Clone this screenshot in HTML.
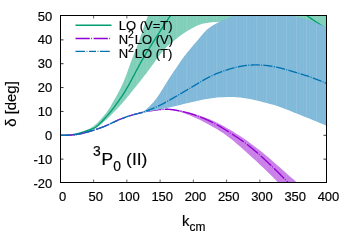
<!DOCTYPE html>
<html>
<head>
<meta charset="utf-8">
<title>3P0 (II) phase shift</title>
<style>
  html, body { margin: 0; padding: 0; background: #ffffff; }
  body { width: 350px; height: 245px; overflow: hidden; }
  svg { display: block; }
  text { font-family: "Liberation Sans", sans-serif; font-size: 13px; fill: #000000; stroke: #000000; stroke-width: 0.18px; }
</style>
</head>
<body>
<svg width="350" height="245" viewBox="0 0 350 245">
<rect x="0" y="0" width="350" height="245" fill="#ffffff"/>
<defs>
  <filter id="gray-aa" x="0" y="0" width="350" height="245" filterUnits="userSpaceOnUse" color-interpolation-filters="sRGB"><feOffset dx="0" dy="0"/></filter>
  <clipPath id="plot"><rect x="60.5" y="15.5" width="266.0" height="167.0"/></clipPath>
</defs>

<!-- tick marks (behind the data, as drawn by gnuplot) -->
<g stroke="#000000" stroke-width="1" stroke-opacity="0.6" fill="none">
<path d="M93.60,182.5v-3M93.60,15.5v3"/>
<path d="M126.85,182.5v-3M126.85,15.5v3"/>
<path d="M160.10,182.5v-3M160.10,15.5v3"/>
<path d="M193.35,182.5v-3M193.35,15.5v3"/>
<path d="M226.60,182.5v-3M226.60,15.5v3"/>
<path d="M259.85,182.5v-3M259.85,15.5v3"/>
<path d="M293.10,182.5v-3M293.10,15.5v3"/>
</g>
<g stroke="#000000" stroke-width="1" stroke-opacity="0.8" fill="none">
<path d="M60.5,159.14h3M326.5,159.14h-3"/>
<path d="M60.5,135.29h3M326.5,135.29h-3"/>
<path d="M60.5,111.43h3M326.5,111.43h-3"/>
<path d="M60.5,87.57h3M326.5,87.57h-3"/>
<path d="M60.5,63.71h3M326.5,63.71h-3"/>
<path d="M60.5,39.86h3M326.5,39.86h-3"/>
</g>

<!-- uncertainty bands + central curves (gnuplot draw order) -->
<g clip-path="url(#plot)">
<g id="band-lo">
<path d="M67.15,135.13 L70.47,134.80 L73.80,134.23 L77.12,133.40 L80.45,132.35 L83.78,131.15 L87.10,129.82 L90.42,128.16 L93.75,125.96 L97.08,123.16 L100.40,119.85 L103.72,116.11 L107.05,111.83 L110.38,106.69 L113.70,100.82 L117.03,94.92 L120.35,88.80 L123.68,81.58 L127.00,72.91 L130.32,63.46 L133.65,54.71 L136.98,46.63 L140.30,37.46 L143.62,27.38 L146.95,18.17 L150.28,9.79 L153.60,1.57 L156.93,-6.65 L160.25,-14.86 L163.57,-23.08 L166.90,-31.29 L170.23,-39.51 L173.55,-47.72 L176.88,-55.94 L180.20,-60.00 L183.53,-60.00 L186.85,-60.00 L190.18,-60.00 L193.50,-60.00 L196.83,-60.00 L200.15,-60.00 L203.47,-60.00 L206.80,-60.00 L210.12,-60.00 L213.45,-60.00 L216.78,-60.00 L220.10,-60.00 L223.43,-60.00 L226.75,-60.00 L230.08,-60.00 L233.40,-60.00 L236.73,-60.00 L240.05,-60.00 L243.38,-60.00 L246.70,-60.00 L250.03,-60.00 L253.35,-60.00 L256.68,-60.00 L260.00,-60.00 L263.33,-60.00 L266.65,-60.00 L269.98,-60.00 L273.30,-60.00 L276.62,-60.00 L279.95,-60.00 L283.27,-60.00 L286.60,-60.00 L289.93,-60.00 L293.25,-60.00 L296.58,-60.00 L299.90,-60.00 L303.23,-60.00 L306.55,-60.00 L309.88,-60.00 L313.20,-60.00 L316.53,-60.00 L319.85,-60.00 L323.18,-60.00 L326.50,-60.00 L326.50,32.00 L323.18,31.54 L319.85,31.08 L316.53,30.63 L313.20,30.17 L309.88,29.72 L306.55,29.28 L303.23,28.84 L299.90,28.40 L296.58,27.98 L293.25,27.56 L289.93,27.15 L286.60,26.76 L283.27,26.37 L279.95,26.00 L276.62,25.64 L273.30,25.29 L269.98,24.95 L266.65,24.63 L263.33,24.32 L260.00,24.03 L256.68,23.74 L253.35,23.47 L250.03,23.21 L246.70,22.96 L243.38,22.73 L240.05,22.51 L236.73,22.30 L233.40,22.11 L230.08,21.96 L226.75,21.85 L223.43,21.79 L220.10,21.80 L216.78,21.89 L213.45,22.09 L210.12,22.41 L206.80,22.89 L203.47,23.57 L200.15,24.53 L196.83,25.84 L193.50,27.46 L190.18,29.33 L186.85,31.37 L183.53,33.54 L180.20,35.86 L176.88,38.39 L173.55,41.07 L170.23,43.84 L166.90,46.84 L163.57,50.33 L160.25,54.37 L156.93,58.83 L153.60,63.48 L150.28,68.06 L146.95,72.48 L143.62,76.77 L140.30,80.99 L136.98,85.19 L133.65,89.37 L130.32,93.52 L127.00,97.59 L123.68,101.56 L120.35,105.36 L117.03,108.92 L113.70,112.30 L110.38,115.65 L107.05,118.95 L103.72,122.08 L100.40,124.87 L97.08,127.20 L93.75,129.04 L90.42,130.46 L87.10,131.56 L83.78,132.47 L80.45,133.28 L77.12,134.00 L73.80,134.55 L70.47,134.93 L67.15,135.15Z" fill="#80cfb9"/>
<path d="M87.10,130.42V130.96M97.08,123.76V126.60M107.05,112.43V118.35M117.03,95.52V108.32M127.00,73.51V96.99M136.98,47.23V84.59M146.95,18.77V71.88M156.93,16.10V58.23M166.90,16.10V46.24M176.88,16.10V37.79M186.85,16.10V30.77M196.83,16.10V25.24M206.80,16.10V22.29M216.78,16.10V21.29M226.75,16.10V21.25M236.73,16.10V21.70M246.70,16.10V22.36M256.68,16.10V23.14M266.65,16.10V24.03M276.62,16.10V25.04M286.60,16.10V26.16M296.58,16.10V27.38M306.55,16.10V28.68M316.53,16.10V30.03" stroke="#ffffff" stroke-opacity="0.13" stroke-width="1" fill="none"/>
<path d="M90.42,128.76V129.86M93.75,126.56V128.44M100.40,120.45V124.27M103.72,116.71V121.48M110.38,107.29V115.05M113.70,101.42V111.70M120.35,89.40V104.76M123.68,82.18V100.96M130.32,64.06V92.92M133.65,55.31V88.77M140.30,38.06V80.39M143.62,27.98V76.17M150.28,16.10V67.46M153.60,16.10V62.88M160.25,16.10V53.77M163.57,16.10V49.73M170.23,16.10V43.24M173.55,16.10V40.47M180.20,16.10V35.26M183.53,16.10V32.94M190.18,16.10V28.73M193.50,16.10V26.86M200.15,16.10V23.93M203.47,16.10V22.97M210.12,16.10V21.81M213.45,16.10V21.49M220.10,16.10V21.20M223.43,16.10V21.19M230.08,16.10V21.36M233.40,16.10V21.51M240.05,16.10V21.91M243.38,16.10V22.13M250.03,16.10V22.61M253.35,16.10V22.87M260.00,16.10V23.43M263.33,16.10V23.72M269.98,16.10V24.35M273.30,16.10V24.69M279.95,16.10V25.40M283.27,16.10V25.77M289.93,16.10V26.55M293.25,16.10V26.96M299.90,16.10V27.80M303.23,16.10V28.24M309.88,16.10V29.12M313.20,16.10V29.57M319.85,16.10V30.48M323.18,16.10V30.94" stroke="#ffffff" stroke-opacity="0.052" stroke-width="1" fill="none"/>
</g>
<path d="M60.50,135.30 L60.79,135.30 L61.08,135.29 L61.37,135.29 L61.66,135.29 L61.95,135.29 L62.24,135.29 L62.53,135.28 L62.82,135.28 L63.11,135.27 L63.39,135.27 L63.68,135.26 L63.97,135.26 L64.26,135.25 L64.55,135.24 L64.84,135.24 L65.13,135.23 L65.42,135.22 L65.71,135.21 L66.00,135.19 L66.29,135.18 L66.58,135.17 L66.87,135.15 L67.16,135.14 L67.45,135.12 L67.74,135.10 L68.03,135.08 L68.32,135.06 L68.61,135.04 L68.89,135.01 L69.18,134.99 L69.47,134.96 L69.76,134.93 L70.05,134.90 L70.34,134.87 L70.63,134.84 L70.92,134.81 L71.21,134.77 L71.50,134.73 L71.79,134.70 L72.08,134.66 L72.37,134.62 L72.66,134.57 L72.95,134.53 L73.24,134.48 L73.53,134.44 L73.82,134.39 L74.11,134.34 L74.39,134.29 L74.68,134.23 L74.97,134.18 L75.26,134.12 L75.55,134.07 L75.84,134.01 L76.13,133.95 L76.42,133.88 L76.71,133.82 L77.00,133.76 L77.29,133.69 L77.58,133.62 L77.87,133.55 L78.16,133.48 L78.45,133.41 L78.74,133.33 L79.03,133.26 L79.32,133.18 L79.61,133.11 L79.89,133.03 L80.18,132.95 L80.47,132.86 L80.76,132.78 L81.05,132.70 L81.34,132.61 L81.63,132.52 L81.92,132.44 L82.21,132.35 L82.50,132.26 L82.79,132.17 L83.08,132.07 L83.37,131.98 L83.66,131.88 L83.95,131.79 L84.24,131.69 L84.53,131.60 L84.82,131.50 L85.11,131.40 L85.39,131.30 L85.68,131.20 L85.97,131.11 L86.26,131.01 L86.55,130.91 L86.84,130.81 L87.13,130.71 L87.42,130.61 L87.71,130.51 L88.00,130.42 L88.29,130.32 L88.58,130.22 L88.87,130.12 L89.16,130.02 L89.45,129.93 L89.74,129.83 L90.03,129.73 L90.32,129.63 L90.61,129.53 L90.89,129.43 L91.18,129.32 L91.47,129.21 L91.76,129.10 L92.05,128.99 L92.34,128.87 L92.63,128.75 L92.92,128.62 L93.21,128.49 L93.50,128.35 L93.79,128.21 L94.08,128.06 L94.37,127.90 L94.66,127.74 L94.95,127.57 L95.24,127.39 L95.53,127.20 L95.82,127.01 L96.11,126.81 L96.39,126.60 L96.68,126.38 L96.97,126.16 L97.26,125.92 L97.55,125.69 L97.84,125.44 L98.13,125.19 L98.42,124.93 L98.71,124.67 L99.00,124.40 L99.29,124.12 L99.58,123.84 L99.87,123.56 L100.16,123.27 L100.45,122.98 L100.74,122.69 L101.03,122.39 L101.32,122.09 L101.61,121.78 L101.89,121.48 L102.18,121.17 L102.47,120.86 L102.76,120.55 L103.05,120.24 L103.34,119.93 L103.63,119.61 L103.92,119.30 L104.21,118.98 L104.50,118.66 L104.79,118.35 L105.08,118.03 L105.37,117.71 L105.66,117.39 L105.95,117.06 L106.24,116.74 L106.53,116.42 L106.82,116.09 L107.11,115.76 L107.39,115.43 L107.68,115.11 L107.97,114.77 L108.26,114.44 L108.55,114.11 L108.84,113.77 L109.13,113.43 L109.42,113.09 L109.71,112.75 L110.00,112.41 L110.29,112.06 L110.58,111.71 L110.87,111.36 L111.16,111.01 L111.45,110.65 L111.74,110.29 L112.03,109.93 L112.32,109.56 L112.61,109.19 L112.89,108.82 L113.18,108.45 L113.47,108.07 L113.76,107.69 L114.05,107.30 L114.34,106.92 L114.63,106.53 L114.92,106.14 L115.21,105.74 L115.50,105.34 L115.79,104.95 L116.08,104.54 L116.37,104.14 L116.66,103.74 L116.95,103.33 L117.24,102.93 L117.53,102.52 L117.82,102.11 L118.11,101.70 L118.39,101.29 L118.68,100.87 L118.97,100.46 L119.26,100.05 L119.55,99.63 L119.84,99.22 L120.13,98.80 L120.42,98.38 L120.71,97.96 L121.00,97.54 L121.29,97.12 L121.58,96.70 L121.87,96.27 L122.16,95.84 L122.45,95.41 L122.74,94.97 L123.03,94.53 L123.32,94.09 L123.61,93.64 L123.89,93.19 L124.18,92.74 L124.47,92.28 L124.76,91.82 L125.05,91.35 L125.34,90.88 L125.63,90.40 L125.92,89.92 L126.21,89.43 L126.50,88.94 L126.79,88.45 L127.08,87.95 L127.37,87.45 L127.66,86.94 L127.95,86.43 L128.24,85.92 L128.53,85.40 L128.82,84.88 L129.11,84.35 L129.39,83.82 L129.68,83.29 L129.97,82.76 L130.26,82.23 L130.55,81.69 L130.84,81.15 L131.13,80.61 L131.42,80.06 L131.71,79.52 L132.00,78.97 L132.29,78.43 L132.58,77.88 L132.87,77.33 L133.16,76.78 L133.45,76.23 L133.74,75.68 L134.03,75.13 L134.32,74.58 L134.61,74.03 L134.89,73.48 L135.18,72.93 L135.47,72.38 L135.76,71.83 L136.05,71.28 L136.34,70.73 L136.63,70.19 L136.92,69.64 L137.21,69.10 L137.50,68.56 L137.79,68.02 L138.08,67.48 L138.37,66.94 L138.66,66.40 L138.95,65.87 L139.24,65.33 L139.53,64.80 L139.82,64.27 L140.11,63.75 L140.39,63.22 L140.68,62.70 L140.97,62.18 L141.26,61.66 L141.55,61.15 L141.84,60.63 L142.13,60.12 L142.42,59.61 L142.71,59.11 L143.00,58.60 L143.29,58.10 L143.58,57.60 L143.87,57.11 L144.16,56.61 L144.45,56.12 L144.74,55.63 L145.03,55.15 L145.32,54.66 L145.61,54.18 L145.89,53.70 L146.18,53.22 L146.47,52.75 L146.76,52.27 L147.05,51.80 L147.34,51.33 L147.63,50.86 L147.92,50.39 L148.21,49.93 L148.50,49.46 L148.79,49.00 L149.08,48.54 L149.37,48.08 L149.66,47.62 L149.95,47.16 L150.24,46.70 L150.53,46.25 L150.82,45.79 L151.11,45.33 L151.39,44.88 L151.68,44.43 L151.97,43.97 L152.26,43.52 L152.55,43.06 L152.84,42.61 L153.13,42.16 L153.42,41.71 L153.71,41.25 L154.00,40.80 L154.29,40.35 L154.58,39.89 L154.87,39.44 L155.16,38.99 L155.45,38.54 L155.74,38.08 L156.03,37.63 L156.32,37.18 L156.61,36.72 L156.89,36.27 L157.18,35.81 L157.47,35.36 L157.76,34.91 L158.05,34.45 L158.34,34.00 L158.63,33.55 L158.92,33.09 L159.21,32.64 L159.50,32.19 L159.79,31.74 L160.08,31.29 L160.37,30.84 L160.66,30.39 L160.95,29.94 L161.24,29.49 L161.53,29.04 L161.82,28.60 L162.11,28.15 L162.39,27.70 L162.68,27.26 L162.97,26.82 L163.26,26.37 L163.55,25.93 L163.84,25.49 L164.13,25.05 L164.42,24.61 L164.71,24.18 L165.00,23.74 L165.29,23.30 L165.58,22.87 L165.87,22.43 L166.16,22.00 L166.45,21.56 L166.74,21.13 L167.03,20.70 L167.32,20.27 L167.61,19.84 L167.89,19.41 L168.18,18.98 L168.47,18.55 L168.76,18.12 L169.05,17.69 L169.34,17.26 L169.63,16.83 L169.92,16.41 L170.21,15.98 L170.50,15.55 L170.79,15.12 L171.08,14.70 L171.37,14.27 L171.66,13.84 L171.95,13.41 L172.24,12.99 L172.53,12.56 L172.82,12.13 L173.11,11.71 L173.39,11.28 L173.68,10.85 L173.97,10.43 L174.26,10.00 L174.55,9.57 L174.84,9.15 L175.13,8.72 L175.42,8.29 L175.71,7.87 L176.00,7.44" fill="none" stroke="#009e73" stroke-width="1.35"/>
<path d="M300.00,9.49 L300.68,10.11 L301.36,10.72 L302.04,11.33 L302.72,11.94 L303.40,12.54 L304.08,13.13 L304.76,13.71 L305.44,14.28 L306.12,14.84 L306.79,15.38 L307.47,15.92 L308.15,16.44 L308.83,16.95 L309.51,17.45 L310.19,17.93 L310.87,18.41 L311.55,18.88 L312.23,19.34 L312.91,19.79 L313.59,20.24 L314.27,20.69 L314.95,21.14 L315.63,21.58 L316.31,22.03 L316.99,22.48 L317.67,22.94 L318.35,23.40 L319.03,23.87 L319.71,24.34 L320.38,24.82 L321.06,25.32 L321.74,25.82 L322.42,26.33 L323.10,26.84 L323.78,27.37 L324.46,27.90 L325.14,28.43 L325.82,28.97 L326.50,29.51" fill="none" stroke="#009e73" stroke-width="1.35"/>
<g id="band-n2lo-v">
<path d="M140.30,112.92 L143.62,112.13 L146.95,111.38 L150.28,110.69 L153.60,110.07 L156.93,109.54 L160.25,109.14 L163.57,108.90 L166.90,108.82 L170.23,108.94 L173.55,109.25 L176.88,109.73 L180.20,110.36 L183.53,111.09 L186.85,111.90 L190.18,112.77 L193.50,113.71 L196.83,114.73 L200.15,115.82 L203.47,116.98 L206.80,118.23 L210.12,119.58 L213.45,121.04 L216.78,122.60 L220.10,124.27 L223.43,126.03 L226.75,127.89 L230.08,129.82 L233.40,131.83 L236.73,133.91 L240.05,136.05 L243.38,138.27 L246.70,140.57 L250.03,142.95 L253.35,145.40 L256.68,147.94 L260.00,150.56 L263.33,153.25 L266.65,156.01 L269.98,158.84 L273.30,161.72 L276.62,164.64 L279.95,167.58 L283.27,170.53 L286.60,173.48 L289.93,176.42 L293.25,179.35 L296.58,182.28 L299.90,185.20 L303.23,188.12 L306.55,191.04 L309.88,193.96 L313.20,196.88 L316.53,199.79 L319.85,202.71 L323.18,205.63 L326.50,208.55 L326.50,232.53 L323.18,229.08 L319.85,225.64 L316.53,222.19 L313.20,218.75 L309.88,215.30 L306.55,211.86 L303.23,208.42 L299.90,204.97 L296.58,201.53 L293.25,198.08 L289.93,194.64 L286.60,191.19 L283.27,187.75 L279.95,184.31 L276.62,180.90 L273.30,177.52 L269.98,174.19 L266.65,170.93 L263.33,167.76 L260.00,164.66 L256.68,161.62 L253.35,158.60 L250.03,155.59 L246.70,152.57 L243.38,149.55 L240.05,146.56 L236.73,143.65 L233.40,140.85 L230.08,138.20 L226.75,135.71 L223.43,133.37 L220.10,131.18 L216.78,129.10 L213.45,127.13 L210.12,125.24 L206.80,123.45 L203.47,121.73 L200.15,120.07 L196.83,118.48 L193.50,116.96 L190.18,115.52 L186.85,114.20 L183.53,113.01 L180.20,111.99 L176.88,111.14 L173.55,110.47 L170.23,109.98 L166.90,109.70 L163.57,109.67 L160.25,109.84 L156.93,110.17 L153.60,110.58 L150.28,111.04 L146.95,111.57 L143.62,112.19 L140.30,112.92Z" fill="#ca80e9"/>
<path d="M186.85,112.50V113.60M196.83,115.33V117.88M206.80,118.83V122.85M216.78,123.20V128.50M226.75,128.49V135.11M236.73,134.51V143.05M246.70,141.17V151.97M256.68,148.54V161.02M266.65,156.61V170.33M276.62,165.24V180.30M286.60,174.08V181.90M296.58,182.88V181.90M306.55,191.64V181.90M316.53,200.39V181.90" stroke="#ffffff" stroke-opacity="0.08" stroke-width="1" fill="none"/>
<path d="M180.20,110.96V111.39M183.53,111.69V112.41M190.18,113.37V114.92M193.50,114.31V116.36M200.15,116.42V119.47M203.47,117.58V121.13M210.12,120.18V124.64M213.45,121.64V126.53M220.10,124.87V130.58M223.43,126.63V132.77M230.08,130.42V137.60M233.40,132.43V140.25M240.05,136.65V145.96M243.38,138.87V148.95M250.03,143.55V154.99M253.35,146.00V158.00M260.00,151.16V164.06M263.33,153.85V167.16M269.98,159.44V173.59M273.30,162.32V176.92M279.95,168.18V181.90M283.27,171.13V181.90M289.93,177.02V181.90M293.25,179.95V181.90M299.90,185.80V181.90M303.23,188.72V181.90M309.88,194.56V181.90M313.20,197.48V181.90M319.85,203.31V181.90M323.18,206.23V181.90" stroke="#ffffff" stroke-opacity="0.032" stroke-width="1" fill="none"/>
</g>
<path d="M60.50,135.30 L61.17,135.30 L61.83,135.31 L62.50,135.31 L63.17,135.31 L63.83,135.31 L64.50,135.31 L65.17,135.30 L65.83,135.29 L66.50,135.28 L67.17,135.26 L67.83,135.24 L68.50,135.21 L69.17,135.18 L69.83,135.15 L70.50,135.10 L71.17,135.06 L71.83,135.01 L72.50,134.95 L73.17,134.88 L73.83,134.81 L74.50,134.74 L75.17,134.66 L75.83,134.57 L76.50,134.48 L77.17,134.38 L77.83,134.27 L78.50,134.16 L79.17,134.04 L79.83,133.91 L80.50,133.78 L81.17,133.65 L81.83,133.50 L82.50,133.35 L83.17,133.20 L83.83,133.03 L84.50,132.87 L85.17,132.69 L85.83,132.52 L86.50,132.33 L87.17,132.15 L87.83,131.96 L88.50,131.76 L89.17,131.56 L89.83,131.36 L90.50,131.15 L91.17,130.95 L91.83,130.74 L92.50,130.53 L93.17,130.31 L93.83,130.10 L94.50,129.88 L95.17,129.66 L95.83,129.44 L96.50,129.22 L97.17,128.99 L97.83,128.77 L98.50,128.54 L99.17,128.30 L99.83,128.07 L100.50,127.83 L101.17,127.58 L101.83,127.34 L102.50,127.08 L103.17,126.83 L103.83,126.57 L104.50,126.30 L105.17,126.03 L105.83,125.76 L106.50,125.48 L107.17,125.19 L107.83,124.90 L108.50,124.60 L109.17,124.30 L109.83,123.99 L110.50,123.68 L111.17,123.37 L111.83,123.05 L112.50,122.73 L113.17,122.41 L113.83,122.10 L114.50,121.78 L115.17,121.46 L115.83,121.15 L116.50,120.84 L117.17,120.53 L117.83,120.23 L118.50,119.94 L119.17,119.64 L119.83,119.36 L120.50,119.07 L121.17,118.80 L121.83,118.53 L122.50,118.27 L123.17,118.01 L123.83,117.76 L124.50,117.52 L125.17,117.28 L125.83,117.05 L126.50,116.82 L127.17,116.60 L127.83,116.39 L128.50,116.17 L129.17,115.97 L129.83,115.76 L130.50,115.56 L131.17,115.37 L131.83,115.17 L132.50,114.98 L133.17,114.79 L133.83,114.60 L134.50,114.41 L135.17,114.23 L135.83,114.05 L136.50,113.87 L137.17,113.70 L137.83,113.53 L138.50,113.36 L139.17,113.19 L139.83,113.03 L140.50,112.87 L141.17,112.72 L141.83,112.56 L142.50,112.41 L143.17,112.26 L143.83,112.12 L144.50,111.98 L145.17,111.84 L145.83,111.70 L146.50,111.57 L147.17,111.44 L147.83,111.31 L148.50,111.18 L149.17,111.06 L149.83,110.94 L150.50,110.82 L151.17,110.71 L151.83,110.60 L152.50,110.49 L153.17,110.39 L153.83,110.29 L154.50,110.19 L155.17,110.09 L155.83,110.00 L156.50,109.91 L157.17,109.83 L157.83,109.75 L158.50,109.67 L159.17,109.60 L159.83,109.53 L160.50,109.47 L161.17,109.42 L161.83,109.37 L162.50,109.33 L163.17,109.30 L163.83,109.27 L164.50,109.25 L165.17,109.24 L165.83,109.24 L166.50,109.25 L167.17,109.26 L167.83,109.29 L168.50,109.32 L169.17,109.36 L169.83,109.41 L170.50,109.46 L171.17,109.53 L171.83,109.60 L172.50,109.68 L173.17,109.76 L173.83,109.86 L174.50,109.96 L175.17,110.06 L175.83,110.18 L176.50,110.30 L177.17,110.42 L177.83,110.55 L178.50,110.68 L179.17,110.82 L179.83,110.97 L180.50,111.11 L181.17,111.26 L181.83,111.41 L182.50,111.57 L183.17,111.73 L183.83,111.89 L184.50,112.05 L185.17,112.21 L185.83,112.38 L186.50,112.55 L187.17,112.73 L187.83,112.91 L188.50,113.09 L189.17,113.27 L189.83,113.46 L190.50,113.65 L191.17,113.85 L191.83,114.05 L192.50,114.25 L193.17,114.46 L193.83,114.67 L194.50,114.89 L195.17,115.11 L195.83,115.34 L196.50,115.57 L197.17,115.80 L197.83,116.04 L198.50,116.29 L199.17,116.54 L199.83,116.79 L200.50,117.05 L201.17,117.31 L201.83,117.58 L202.50,117.85 L203.17,118.12 L203.83,118.40 L204.50,118.68 L205.17,118.97 L205.83,119.26 L206.50,119.55 L207.17,119.85 L207.83,120.16 L208.50,120.46 L209.17,120.77 L209.83,121.09 L210.50,121.41 L211.17,121.74 L211.83,122.07 L212.50,122.40 L213.17,122.74 L213.83,123.08 L214.50,123.43 L215.17,123.79 L215.83,124.15 L216.50,124.51 L217.17,124.88 L217.83,125.26 L218.50,125.64 L219.17,126.02 L219.83,126.41 L220.50,126.80 L221.17,127.19 L221.83,127.59 L222.50,127.99 L223.17,128.40 L223.83,128.81 L224.50,129.22 L225.17,129.63 L225.83,130.05 L226.50,130.47 L227.17,130.89 L227.83,131.31 L228.50,131.74 L229.17,132.17 L229.83,132.59 L230.50,133.02 L231.17,133.46 L231.83,133.89 L232.50,134.32 L233.17,134.76 L233.83,135.20 L234.50,135.63 L235.17,136.07 L235.83,136.52 L236.50,136.96 L237.17,137.41 L237.83,137.86 L238.50,138.31 L239.17,138.77 L239.83,139.23 L240.50,139.69 L241.17,140.15 L241.83,140.62 L242.50,141.09 L243.17,141.57 L243.83,142.05 L244.50,142.54 L245.17,143.03 L245.83,143.52 L246.50,144.02 L247.17,144.53 L247.83,145.04 L248.50,145.55 L249.17,146.07 L249.83,146.60 L250.50,147.13 L251.17,147.67 L251.83,148.21 L252.50,148.76 L253.17,149.31 L253.83,149.86 L254.50,150.42 L255.17,150.99 L255.83,151.56 L256.50,152.13 L257.17,152.71 L257.83,153.30 L258.50,153.88 L259.17,154.47 L259.83,155.06 L260.50,155.66 L261.17,156.26 L261.83,156.86 L262.50,157.47 L263.17,158.08 L263.83,158.69 L264.50,159.30 L265.17,159.92 L265.83,160.54 L266.50,161.16 L267.17,161.78 L267.83,162.41 L268.50,163.03 L269.17,163.66 L269.83,164.29 L270.50,164.93 L271.17,165.57 L271.83,166.21 L272.50,166.85 L273.17,167.49 L273.83,168.14 L274.50,168.79 L275.17,169.44 L275.83,170.10 L276.50,170.75 L277.17,171.41 L277.83,172.08 L278.50,172.74 L279.17,173.41 L279.83,174.09 L280.50,174.76 L281.17,175.44 L281.83,176.12 L282.50,176.80 L283.17,177.49 L283.83,178.18 L284.50,178.87 L285.17,179.56 L285.83,180.25 L286.50,180.94 L287.17,181.64 L287.83,182.33 L288.50,183.02 L289.17,183.71 L289.83,184.40 L290.50,185.09 L291.17,185.78 L291.83,186.47 L292.50,187.15 L293.17,187.84 L293.83,188.53 L294.50,189.21 L295.17,189.90 L295.83,190.58 L296.50,191.27 L297.17,191.96 L297.83,192.64 L298.50,193.33 L299.17,194.01 L299.83,194.70 L300.50,195.38 L301.17,196.07 L301.83,196.75 L302.50,197.44 L303.17,198.13 L303.83,198.81 L304.50,199.50 L305.17,200.18 L305.83,200.87 L306.50,201.55 L307.17,202.24 L307.83,202.92 L308.50,203.61 L309.17,204.29 L309.83,204.98 L310.50,205.67 L311.17,206.35 L311.83,207.04 L312.50,207.72 L313.17,208.41 L313.83,209.09 L314.50,209.78 L315.17,210.46 L315.83,211.15 L316.50,211.83 L317.17,212.52 L317.83,213.21 L318.50,213.89 L319.17,214.58 L319.83,215.26 L320.50,215.95 L321.17,216.63 L321.83,217.32 L322.50,218.00 L323.17,218.69 L323.83,219.37 L324.50,220.06 L325.17,220.75 L325.83,221.43 L326.50,222.12" fill="none" stroke="#9400d3" stroke-width="1.35" stroke-dasharray="14.3 1.4 0.8 1.6"/>
<g id="band-n2lo-t">
<path d="M130.32,115.60 L133.65,114.60 L136.98,113.76 L140.30,112.85 L143.62,111.17 L146.95,108.63 L150.28,105.58 L153.60,101.95 L156.93,97.63 L160.25,92.72 L163.57,87.38 L166.90,81.94 L170.23,76.78 L173.55,71.87 L176.88,66.94 L180.20,62.01 L183.53,57.33 L186.85,53.00 L190.18,48.98 L193.50,45.10 L196.83,41.19 L200.15,37.17 L203.47,33.26 L206.80,29.86 L210.12,27.20 L213.45,25.11 L216.78,23.26 L220.10,21.51 L223.43,19.89 L226.75,18.45 L230.08,17.24 L233.40,16.17 L236.73,15.12 L240.05,14.05 L243.38,13.01 L246.70,12.05 L250.03,11.21 L253.35,10.53 L256.68,10.01 L260.00,9.68 L263.33,9.54 L266.65,9.62 L269.98,9.92 L273.30,10.44 L276.62,11.18 L279.95,12.12 L283.27,13.22 L286.60,14.35 L289.93,15.40 L293.25,16.30 L296.58,17.06 L299.90,17.76 L303.23,18.51 L306.55,19.39 L309.88,20.46 L313.20,21.70 L316.53,23.04 L319.85,24.42 L323.18,25.81 L326.50,27.20 L326.50,125.70 L323.18,124.29 L319.85,122.88 L316.53,121.49 L313.20,120.13 L309.88,118.79 L306.55,117.48 L303.23,116.18 L299.90,114.87 L296.58,113.55 L293.25,112.20 L289.93,110.84 L286.60,109.50 L283.27,108.21 L279.95,106.99 L276.62,105.87 L273.30,104.85 L269.98,103.91 L266.65,103.03 L263.33,102.18 L260.00,101.35 L256.68,100.54 L253.35,99.76 L250.03,99.04 L246.70,98.41 L243.38,97.90 L240.05,97.51 L236.73,97.23 L233.40,97.07 L230.08,97.00 L226.75,97.02 L223.43,97.13 L220.10,97.31 L216.78,97.59 L213.45,97.96 L210.12,98.42 L206.80,98.97 L203.47,99.60 L200.15,100.30 L196.83,101.03 L193.50,101.78 L190.18,102.54 L186.85,103.31 L183.53,104.08 L180.20,104.89 L176.88,105.71 L173.55,106.54 L170.23,107.32 L166.90,108.03 L163.57,108.70 L160.25,109.35 L156.93,109.98 L153.60,110.59 L150.28,111.15 L146.95,111.67 L143.62,112.24 L140.30,112.92 L136.98,113.76 L133.65,114.65 L130.32,115.62Z" fill="#80b9d9"/>
<path d="M146.95,109.23V111.07M156.93,98.23V109.38M166.90,82.54V107.43M176.88,67.54V105.11M186.85,53.60V102.71M196.83,41.79V100.43M206.80,30.46V98.37M216.78,23.86V96.99M226.75,19.05V96.42M236.73,16.10V96.63M246.70,16.10V97.81M256.68,16.10V99.94M266.65,16.10V102.43M276.62,16.10V105.27M286.60,16.10V108.90M296.58,17.66V112.95M306.55,19.99V116.88M316.53,23.64V120.89" stroke="#ffffff" stroke-opacity="0.13" stroke-width="1" fill="none"/>
<path d="M150.28,106.18V110.55M153.60,102.55V109.99M160.25,93.32V108.75M163.57,87.98V108.10M170.23,77.38V106.72M173.55,72.47V105.94M180.20,62.61V104.29M183.53,57.93V103.48M190.18,49.58V101.94M193.50,45.70V101.18M200.15,37.77V99.70M203.47,33.86V99.00M210.12,27.80V97.82M213.45,25.71V97.36M220.10,22.11V96.71M223.43,20.49V96.53M230.08,17.84V96.40M233.40,16.77V96.47M240.05,16.10V96.91M243.38,16.10V97.30M250.03,16.10V98.44M253.35,16.10V99.16M260.00,16.10V100.75M263.33,16.10V101.58M269.98,16.10V103.31M273.30,16.10V104.25M279.95,16.10V106.39M283.27,16.10V107.61M289.93,16.10V110.24M293.25,16.90V111.60M299.90,18.36V114.27M303.23,19.11V115.58M309.88,21.06V118.19M313.20,22.30V119.53M319.85,25.02V122.28M323.18,26.41V123.69" stroke="#ffffff" stroke-opacity="0.052" stroke-width="1" fill="none"/>
</g>
<path d="M60.50,135.30 L61.17,135.30 L61.83,135.31 L62.50,135.31 L63.17,135.31 L63.83,135.31 L64.50,135.31 L65.17,135.30 L65.83,135.29 L66.50,135.28 L67.17,135.26 L67.83,135.24 L68.50,135.21 L69.17,135.18 L69.83,135.15 L70.50,135.10 L71.17,135.06 L71.83,135.01 L72.50,134.95 L73.17,134.88 L73.83,134.81 L74.50,134.74 L75.17,134.66 L75.83,134.57 L76.50,134.48 L77.17,134.38 L77.83,134.27 L78.50,134.16 L79.17,134.04 L79.83,133.91 L80.50,133.78 L81.17,133.65 L81.83,133.50 L82.50,133.35 L83.17,133.20 L83.83,133.03 L84.50,132.87 L85.17,132.69 L85.83,132.52 L86.50,132.33 L87.17,132.15 L87.83,131.96 L88.50,131.76 L89.17,131.56 L89.83,131.36 L90.50,131.15 L91.17,130.95 L91.83,130.74 L92.50,130.53 L93.17,130.31 L93.83,130.10 L94.50,129.88 L95.17,129.66 L95.83,129.44 L96.50,129.22 L97.17,128.99 L97.83,128.77 L98.50,128.54 L99.17,128.30 L99.83,128.07 L100.50,127.83 L101.17,127.58 L101.83,127.34 L102.50,127.08 L103.17,126.83 L103.83,126.57 L104.50,126.30 L105.17,126.03 L105.83,125.76 L106.50,125.48 L107.17,125.19 L107.83,124.90 L108.50,124.60 L109.17,124.30 L109.83,123.99 L110.50,123.68 L111.17,123.37 L111.83,123.05 L112.50,122.73 L113.17,122.41 L113.83,122.10 L114.50,121.78 L115.17,121.46 L115.83,121.15 L116.50,120.84 L117.17,120.53 L117.83,120.23 L118.50,119.93 L119.17,119.64 L119.83,119.36 L120.50,119.07 L121.17,118.80 L121.83,118.53 L122.50,118.27 L123.17,118.01 L123.83,117.76 L124.50,117.52 L125.17,117.28 L125.83,117.05 L126.50,116.82 L127.17,116.60 L127.83,116.39 L128.50,116.17 L129.17,115.97 L129.83,115.76 L130.50,115.56 L131.17,115.36 L131.83,115.16 L132.50,114.97 L133.17,114.78 L133.83,114.59 L134.50,114.40 L135.17,114.22 L135.83,114.05 L136.50,113.87 L137.17,113.70 L137.83,113.53 L138.50,113.37 L139.17,113.20 L139.83,113.03 L140.50,112.85 L141.17,112.67 L141.83,112.48 L142.50,112.29 L143.17,112.08 L143.83,111.87 L144.50,111.65 L145.17,111.42 L145.83,111.18 L146.50,110.94 L147.17,110.69 L147.83,110.44 L148.50,110.18 L149.17,109.92 L149.83,109.66 L150.50,109.39 L151.17,109.12 L151.83,108.85 L152.50,108.58 L153.17,108.31 L153.83,108.03 L154.50,107.75 L155.17,107.46 L155.83,107.17 L156.50,106.88 L157.17,106.58 L157.83,106.27 L158.50,105.96 L159.17,105.64 L159.83,105.32 L160.50,105.00 L161.17,104.66 L161.83,104.33 L162.50,103.99 L163.17,103.64 L163.83,103.29 L164.50,102.93 L165.17,102.57 L165.83,102.21 L166.50,101.84 L167.17,101.47 L167.83,101.10 L168.50,100.72 L169.17,100.35 L169.83,99.97 L170.50,99.58 L171.17,99.20 L171.83,98.82 L172.50,98.43 L173.17,98.05 L173.83,97.66 L174.50,97.27 L175.17,96.88 L175.83,96.50 L176.50,96.11 L177.17,95.71 L177.83,95.32 L178.50,94.93 L179.17,94.54 L179.83,94.15 L180.50,93.75 L181.17,93.36 L181.83,92.96 L182.50,92.57 L183.17,92.18 L183.83,91.78 L184.50,91.39 L185.17,90.99 L185.83,90.60 L186.50,90.21 L187.17,89.82 L187.83,89.42 L188.50,89.03 L189.17,88.64 L189.83,88.24 L190.50,87.85 L191.17,87.46 L191.83,87.06 L192.50,86.67 L193.17,86.27 L193.83,85.87 L194.50,85.47 L195.17,85.07 L195.83,84.67 L196.50,84.27 L197.17,83.87 L197.83,83.47 L198.50,83.07 L199.17,82.67 L199.83,82.27 L200.50,81.87 L201.17,81.48 L201.83,81.09 L202.50,80.70 L203.17,80.31 L203.83,79.93 L204.50,79.55 L205.17,79.18 L205.83,78.82 L206.50,78.45 L207.17,78.10 L207.83,77.75 L208.50,77.40 L209.17,77.07 L209.83,76.73 L210.50,76.41 L211.17,76.09 L211.83,75.77 L212.50,75.46 L213.17,75.16 L213.83,74.86 L214.50,74.57 L215.17,74.28 L215.83,73.99 L216.50,73.72 L217.17,73.44 L217.83,73.17 L218.50,72.90 L219.17,72.64 L219.83,72.38 L220.50,72.13 L221.17,71.88 L221.83,71.63 L222.50,71.39 L223.17,71.15 L223.83,70.92 L224.50,70.69 L225.17,70.46 L225.83,70.24 L226.50,70.02 L227.17,69.80 L227.83,69.59 L228.50,69.38 L229.17,69.17 L229.83,68.97 L230.50,68.78 L231.17,68.58 L231.83,68.39 L232.50,68.21 L233.17,68.03 L233.83,67.85 L234.50,67.68 L235.17,67.52 L235.83,67.35 L236.50,67.20 L237.17,67.04 L237.83,66.90 L238.50,66.75 L239.17,66.62 L239.83,66.48 L240.50,66.36 L241.17,66.23 L241.83,66.12 L242.50,66.00 L243.17,65.90 L243.83,65.80 L244.50,65.70 L245.17,65.61 L245.83,65.53 L246.50,65.45 L247.17,65.38 L247.83,65.31 L248.50,65.25 L249.17,65.19 L249.83,65.14 L250.50,65.09 L251.17,65.05 L251.83,65.02 L252.50,64.99 L253.17,64.96 L253.83,64.94 L254.50,64.93 L255.17,64.92 L255.83,64.92 L256.50,64.92 L257.17,64.92 L257.83,64.93 L258.50,64.95 L259.17,64.97 L259.83,65.00 L260.50,65.03 L261.17,65.06 L261.83,65.10 L262.50,65.15 L263.17,65.20 L263.83,65.25 L264.50,65.31 L265.17,65.38 L265.83,65.45 L266.50,65.52 L267.17,65.60 L267.83,65.68 L268.50,65.77 L269.17,65.86 L269.83,65.96 L270.50,66.06 L271.17,66.16 L271.83,66.27 L272.50,66.38 L273.17,66.50 L273.83,66.62 L274.50,66.75 L275.17,66.88 L275.83,67.02 L276.50,67.16 L277.17,67.30 L277.83,67.45 L278.50,67.60 L279.17,67.75 L279.83,67.91 L280.50,68.07 L281.17,68.24 L281.83,68.41 L282.50,68.58 L283.17,68.76 L283.83,68.94 L284.50,69.12 L285.17,69.30 L285.83,69.49 L286.50,69.68 L287.17,69.87 L287.83,70.06 L288.50,70.25 L289.17,70.45 L289.83,70.64 L290.50,70.84 L291.17,71.04 L291.83,71.24 L292.50,71.44 L293.17,71.64 L293.83,71.84 L294.50,72.04 L295.17,72.24 L295.83,72.44 L296.50,72.64 L297.17,72.84 L297.83,73.04 L298.50,73.24 L299.17,73.44 L299.83,73.65 L300.50,73.85 L301.17,74.05 L301.83,74.25 L302.50,74.46 L303.17,74.67 L303.83,74.87 L304.50,75.08 L305.17,75.29 L305.83,75.51 L306.50,75.72 L307.17,75.94 L307.83,76.16 L308.50,76.38 L309.17,76.60 L309.83,76.83 L310.50,77.06 L311.17,77.30 L311.83,77.53 L312.50,77.77 L313.17,78.02 L313.83,78.26 L314.50,78.51 L315.17,78.77 L315.83,79.02 L316.50,79.28 L317.17,79.54 L317.83,79.81 L318.50,80.08 L319.17,80.34 L319.83,80.62 L320.50,80.89 L321.17,81.16 L321.83,81.44 L322.50,81.72 L323.17,82.00 L323.83,82.28 L324.50,82.56 L325.17,82.84 L325.83,83.12 L326.50,83.40" fill="none" stroke="#0072b2" stroke-width="1.35" stroke-dasharray="9.2 1.3 1 1.3"/>
</g>

<!-- text is placed in a (no-op) filter layer -> grayscale anti-aliasing -->
<g filter="url(#gray-aa)">
<!-- legend -->
<g id="legend">
<path d="M75.5,25.2H111.5" stroke="#009e73" stroke-width="1.35" fill="none"/>
<path d="M75.5,38.5H111.5" stroke="#9400d3" stroke-width="1.35" fill="none" stroke-dasharray="14.3 1.4 0.8 1.6"/>
<path d="M75.5,51.4H84.9M89,51.4H96M99.9,51.4H109.8" stroke="#0072b2" stroke-width="1.35" fill="none"/>
<path d="M86.3,51.4h1.3M97.3,51.4h1.3" stroke="#0072b2" stroke-width="1.35" stroke-opacity="0.6" fill="none"/>
<text x="118.7" y="29.9">LO (V=T)</text>
<text x="118.7" y="43.9">N<tspan style="font-size:10.4px" dy="-5.9">2</tspan><tspan dy="5.9" dx="0.8">LO (V)</tspan></text>
<text x="118.7" y="57.9">N<tspan style="font-size:10.4px" dy="-5.9">2</tspan><tspan dy="5.9" dx="0.8">LO (T)</tspan></text>
</g>

<!-- axes -->
<g stroke="#000000" stroke-width="1" fill="none">
<rect x="60.5" y="15.5" width="266.0" height="167.0"/>
</g>

<!-- tick labels -->
<g id="xtics"><text x="62.50" y="201.2" text-anchor="middle">0</text><text x="95.75" y="201.2" text-anchor="middle">50</text><text x="129.00" y="201.2" text-anchor="middle">100</text><text x="162.25" y="201.2" text-anchor="middle">150</text><text x="195.50" y="201.2" text-anchor="middle">200</text><text x="228.75" y="201.2" text-anchor="middle">250</text><text x="262.00" y="201.2" text-anchor="middle">300</text><text x="295.25" y="201.2" text-anchor="middle">350</text><text x="328.50" y="201.2" text-anchor="middle">400</text></g>
<g id="ytics"><text x="52.3" y="187.60" text-anchor="end">-20</text><text x="52.3" y="163.74" text-anchor="end">-10</text><text x="52.3" y="139.89" text-anchor="end">0</text><text x="52.3" y="116.03" text-anchor="end">10</text><text x="52.3" y="92.17" text-anchor="end">20</text><text x="52.3" y="68.31" text-anchor="end">30</text><text x="52.3" y="44.46" text-anchor="end">40</text><text x="52.3" y="20.60" text-anchor="end">50</text></g>

<!-- axis titles -->
<text x="182.1" y="225.7" style="font-size:14.9px">k<tspan style="font-size:11.9px" dy="5.2">cm</tspan></text>
<text transform="translate(15.6,104) rotate(-90)" text-anchor="middle" style="font-size:14.9px">&#948; [deg]</text>

<!-- channel label -->
<text x="93" y="165.4" style="font-size:17.33px"><tspan style="font-size:13.87px" dy="-9.4">3</tspan><tspan dy="9.4" dx="0.9">P</tspan><tspan style="font-size:13.87px" dy="5.2">0</tspan><tspan dy="-5.2" dx="0.4"> (II)</tspan></text>
</g>
</svg>
</body>
</html>
